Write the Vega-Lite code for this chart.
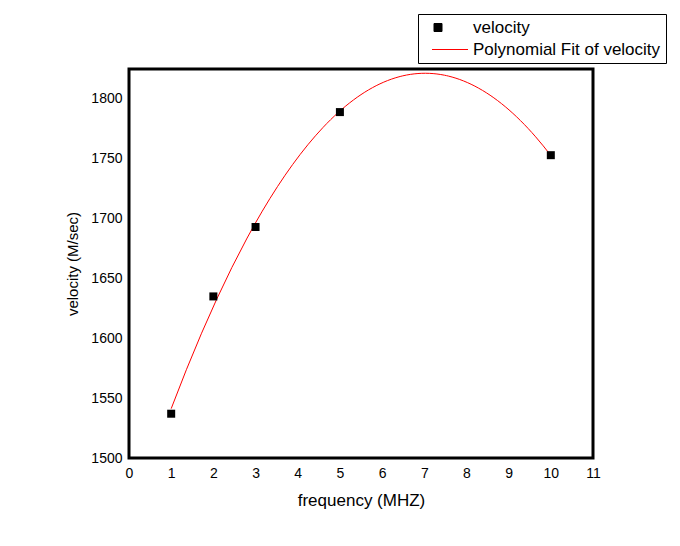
{
  "$schema": "https://vega.github.io/schema/vega-lite/v6.json",
  "width": 464,
  "height": 389,
  "autosize": "none",
  "padding": {"left": 129, "top": 69, "right": 87, "bottom": 88},
  "background": "white",
  "config": {
    "font": "Liberation Sans",
    "view": {"stroke": "black", "strokeWidth": 3},
    "axis": {
      "grid": false,
      "ticks": false,
      "domain": false,
      "labelFlush": false,
      "labelFont": "Liberation Sans",
      "labelFontSize": 14,
      "labelColor": "black",
      "titleFont": "Liberation Sans",
      "titleFontWeight": "normal",
      "titleColor": "black"
    }
  },
  "data": {
    "values": [
      {"f": 1, "v": 1537},
      {"f": 2, "v": 1635},
      {"f": 3, "v": 1693},
      {"f": 5, "v": 1789},
      {"f": 10, "v": 1753}
    ]
  },
  "layer": [
    {
      "transform": [{"regression": "v", "on": "f", "method": "poly", "order": 2}],
      "mark": {"type": "line", "strokeWidth": 1, "clip": true},
      "encoding": {
        "x": {
          "field": "f", "type": "quantitative",
          "scale": {"domain": [0, 11], "nice": false, "zero": false},
          "axis": {"values": [0,1,2,3,4,5,6,7,8,9,10,11], "format": "d", "labelPadding": 8, "title": "frequency (MHZ)", "titleFontSize": 17, "titlePadding": 12}
        },
        "y": {
          "field": "v", "type": "quantitative",
          "scale": {"domain": [1500, 1825], "nice": false, "zero": false},
          "axis": {"values": [1500,1550,1600,1650,1700,1750,1800], "format": "d", "labelPadding": 7, "title": "velocity (M/sec)", "titleFontSize": 15, "titlePadding": 10}
        },
        "color": {
          "datum": "Polynomial Fit of velocity",
          "scale": {"domain": ["velocity", "Polynomial Fit of velocity"], "range": ["black", "#ff0000"]},
          "legend": {
            "orient": "none",
            "legendX": 289,
            "legendY": -55,
            "title": null,
            "padding": 5,
            "strokeColor": "black",
            "fillColor": "white",
            "labelFont": "Liberation Sans",
            "labelFontSize": 17,
            "labelColor": "black",
            "labelOffset": 33,
            "labelLimit": 400,
            "symbolSize": 64,
            "rowPadding": 4,
            "symbolOpacity": 1,
            "encode": {
              "symbols": {
                "update": {
                  "x": {"value": 15},
                  "stroke": {"scale": "color", "field": "value"},
                  "strokeWidth": {"value": 1},
                  "opacity": {"value": 1}
                }
              }
            }
          }
        }
      }
    },
    {
      "mark": {"type": "point", "filled": true, "size": 64, "opacity": 1},
      "encoding": {
        "x": {"field": "f", "type": "quantitative"},
        "y": {"field": "v", "type": "quantitative"},
        "color": {"datum": "velocity"},
        "shape": {
          "datum": "velocity",
          "scale": {"domain": ["velocity", "Polynomial Fit of velocity"], "range": ["M-1,-1H1V1H-1Z", "M-1.5,0H7.5"]}
        }
      }
    }
  ]
}
